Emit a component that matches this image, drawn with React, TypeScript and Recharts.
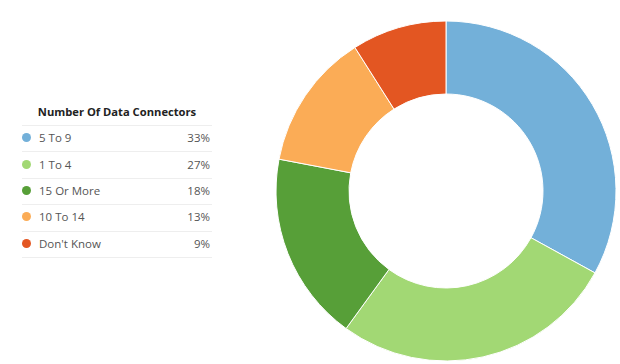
import React from "react";
import { PieChart, Pie, Cell } from "recharts";

const categories = ["5 To 9", "1 To 4", "15 Or More", "10 To 14", "Don't Know"];
const values = [33, 27, 18, 13, 9];
const colors = ["#73b0d9", "#a2d874", "#579f38", "#fbac56", "#e35622"];
const legendTitle = "Number Of Data Connectors";

const data = categories.map((name, i) => ({ name, value: values[i] }));

const LegendTable = () => (
  <div
    style={{
      position: "absolute",
      left: 22,
      top: 102,
      width: 190,
      fontFamily: "'Open Sans', sans-serif",
    }}
  >
    <div
      style={{
        fontWeight: 700,
        fontSize: 11.2,
        color: "#222",
        textAlign: "center",
        height: 18,
        lineHeight: "18px",
        paddingTop: 1,
        paddingBottom: 4,
        borderBottom: "1px solid #eee",
      }}
    >
      {legendTitle}
    </div>
    {data.map((d, i) => (
      <div
        key={d.name}
        style={{
          display: "flex",
          alignItems: "center",
          height: 23.4,
          paddingBottom: 2,
          borderBottom: "1px solid #eee",
          fontSize: 11.5,
          color: "#555",
        }}
      >
        <span
          style={{
            display: "inline-block",
            width: 9,
            height: 9,
            borderRadius: "50%",
            background: colors[i],
            marginRight: 8,
          }}
        />
        <span style={{ flex: 1 }}>{d.name}</span>
        <span style={{ marginRight: 2 }}>{d.value}%</span>
      </div>
    ))}
  </div>
);

export default function App() {
  return (
    <div style={{ position: "fixed", left: 0, top: 0, width: 620, height: 364, background: "#fff" }}>
      <PieChart width={620} height={364} margin={{ top: 0, right: 0, bottom: 0, left: 0 }}>
        <Pie
          data={data}
          dataKey="value"
          nameKey="name"
          cx={446}
          cy={191}
          innerRadius={97}
          outerRadius={170}
          startAngle={90}
          endAngle={-270}
          stroke="#fff"
          strokeWidth={1}
          isAnimationActive={false}
        >
          {data.map((d, i) => (
            <Cell key={d.name} fill={colors[i]} />
          ))}
        </Pie>
      </PieChart>
      <LegendTable />
    </div>
  );
}
